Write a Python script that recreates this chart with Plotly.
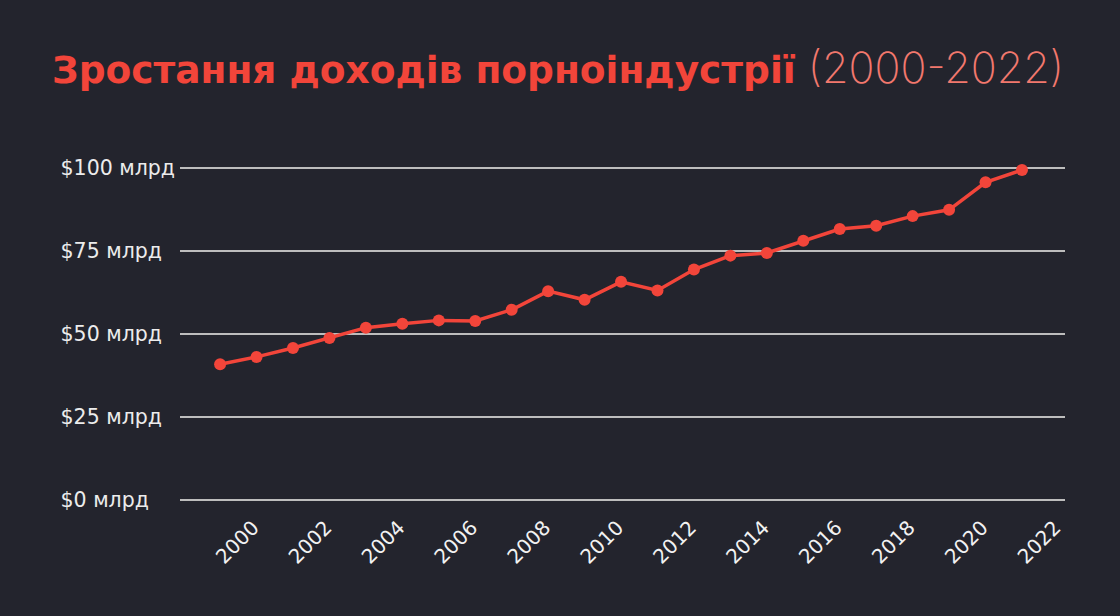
import plotly.graph_objects as go

years = list(range(2000, 2023))
revenue = [40.8, 43.0, 45.7, 48.7, 51.8, 53.0, 54.0, 53.8, 57.2, 62.8, 60.2, 65.6,
           63.0, 69.3, 73.5, 74.3, 78.0, 81.5, 82.5, 85.4, 87.3, 95.6, 99.3]

y_ticks = [0, 25, 50, 75, 100]
y_labels = ["$0 млрд", "$25 млрд", "$50 млрд", "$75 млрд", "$100 млрд"]
x_ticks = list(range(2000, 2023, 2))

bg = "#23242d"
red = "#f2453a"

# labels are left-aligned in the original: pad shorter ones with figure spaces
longest = max(len(s) for s in y_labels)
y_text = [s + "\u2007" * (longest - len(s)) for s in y_labels]

fig = go.Figure()
fig.add_trace(go.Scatter(
    x=years, y=revenue,
    mode="lines+markers",
    line=dict(color=red, width=3.5),
    marker=dict(color=red, size=12),
    cliponaxis=False,
    hovertemplate="%{x}: $%{y} млрд<extra></extra>",
))

fig.update_layout(
    width=1120, height=616,
    paper_bgcolor=bg, plot_bgcolor=bg,
    margin=dict(l=180, r=55, t=161, b=113),
    showlegend=False,
    title=dict(
        text="<b>Зростання доходів порноіндустрії</b>"
             "<span style='font-family:Inter;font-weight:200;font-size:43px;color:#f2786d'> (2000-2022)</span>",
        x=52 / 1120, xanchor="left",
        y=1 - 70 / 616, yanchor="middle",
        font=dict(family="DejaVu Sans", size=37.5, color=red),
    ),
    font=dict(family="DejaVu Sans", color="#ececec"),
)

fig.update_xaxes(
    range=[1998.9, 2023.18],
    tickvals=x_ticks,
    tickangle=-45,
    tickfont=dict(size=20, color="#f2f2f2"),
    ticklabelshift=33,
    ticklabelstandoff=8,
    showgrid=False, zeroline=False, showline=False,
)

fig.update_yaxes(
    range=[-1, 102],
    tickvals=y_ticks, ticktext=y_text,
    tickfont=dict(size=20.5, color="#ececec"),
    showgrid=True, gridcolor="#bdbdbd", gridwidth=1.5,
    zeroline=False, showline=False,
    ticklabelstandoff=4,
)

fig.write_html("out.html", config={"displayModeBar": False},
               post_script="document.body.style.margin='0';")
